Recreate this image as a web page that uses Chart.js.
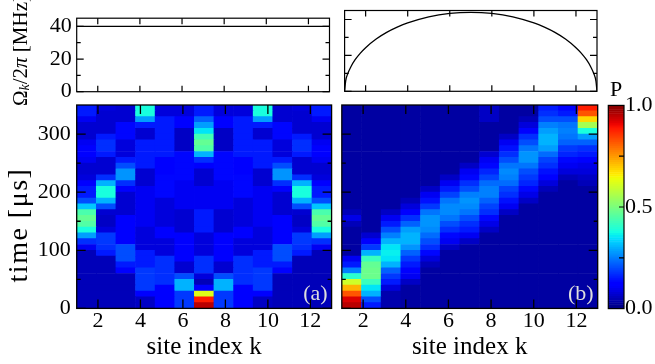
<!DOCTYPE html>
<html>
<head>
<meta charset="utf-8">
<script src="https://cdn.jsdelivr.net/npm/chart.js@4.4.1/dist/chart.umd.min.js"></script>
<style>
  html, body { margin:0; padding:0; background:#ffffff; }
  #fig { position:relative; width:655px; height:364px; overflow:hidden; background:#ffffff; }
  #fig canvas { position:absolute; left:0; top:0; }
  #omegaLabel { position:absolute; left:6px; top:0px; width:30px; height:102px; display:flex; align-items:center; justify-content:center; }
  #omegaLabel span { writing-mode:vertical-rl; transform:rotate(180deg); font-family:'Liberation Serif', 'DejaVu Serif', serif;
    font-size:21px; white-space:nowrap; color:#000; line-height:1; }
  #omegaLabel sub { font-size:14px; }
</style>
</head>
<body>
<div id="fig">
  <canvas id="topA" width="655" height="364" style="width:655px;height:364px"></canvas>
  <canvas id="topB" width="655" height="364" style="width:655px;height:364px"></canvas>
  <canvas id="heatA" width="655" height="364" style="width:655px;height:364px"></canvas>
  <canvas id="heatB" width="655" height="364" style="width:655px;height:364px"></canvas>
  <canvas id="cbar" width="655" height="364" style="width:655px;height:364px"></canvas>
  <div id="omegaLabel"><span>Ω<sub><i>k</i></sub>/2<i>π</i> [MHz]</span></div>
</div>
<script>
// ---------------- data ----------------
const sites = [1, 2, 3, 4, 5, 6, 7, 8, 9, 10, 11, 12, 13];
const timeEdges = [0, 10, 20, 30, 40, 50, 60, 70, 80, 90, 100, 110, 120, 130, 140, 150, 160, 170,
  180, 190, 200, 210, 220, 230, 240, 250, 260, 270, 280, 290, 300, 310, 320, 330, 340, 350];
const siteTicks = [2, 4, 6, 8, 10, 12];
const timeTicks = [0, 100, 200, 300];
const timeMinorTicks = [50, 150, 250];
const omegaTicks = [0, 20, 40];
const omegaMinorTicks = [10, 30];
const pTicks = [0, 0.5, 1];
const pMinorTicks = [0.25, 0.5, 0.75];

// top panels: coupling profile Omega_k / 2pi [MHz]
const uniformX = [1, 13];
const uniformY = [40, 40];
const pstX = [1, 1.05, 1.15, 1.3, 1.5, 1.75, 2, 2.5, 3, 3.5, 4, 5, 6, 7, 8, 9, 10, 10.5, 11, 11.5, 12, 12.25, 12.5, 12.7, 12.85, 12.95, 13];
const pstY = [0, 5.7, 9.8, 13.7, 17.6, 21.3, 24.3, 29.1, 32.8, 35.7, 38.1, 41.5, 43.4, 44, 43.4, 41.5, 38.1, 35.7, 32.8, 29.1, 24.3, 21.3, 17.6, 13.7, 9.8, 5.7, 0];

// panel (a): population P per site, one value per 10 us time bin (0-350 us)
const popA1  = [0.05,0.05,0.05,0.05,0.05, 0.05,0.05,0.05,0.05,0.05, 0.10,0.17,0.28,0.38,0.45, 0.47,0.44,0.32,0.20,0.15, 0.15,0.12,0.08,0.07,0.07, 0.10,0.12,0.12,0.10,0.07, 0.07,0.07,0.10,0.15,0.15];
const popA2  = [0.05,0.05,0.05,0.05,0.05, 0.05,0.05,0.05,0.05,0.15, 0.17,0.18,0.18,0.08,0.06, 0.06,0.07,0.20,0.30,0.38, 0.38,0.30,0.17,0.07,0.07, 0.07,0.15,0.17,0.17,0.15, 0.07,0.07,0.07,0.07,0.08];
const popA3  = [0.05,0.05,0.05,0.05,0.05, 0.05,0.12,0.15,0.20,0.20, 0.20,0.12,0.12,0.12,0.12, 0.12,0.07,0.07,0.07,0.07, 0.12,0.17,0.27,0.27,0.20, 0.15,0.08,0.08,0.08,0.13, 0.13,0.13,0.07,0.07,0.07];
const popA4  = [0.06,0.06,0.12,0.18,0.18, 0.18,0.18,0.15,0.15,0.15, 0.08,0.08,0.08,0.08,0.10, 0.10,0.10,0.10,0.10,0.10, 0.10,0.07,0.07,0.07,0.15, 0.15,0.15,0.15,0.15,0.07, 0.07,0.15,0.28,0.38,0.38];
const popA5  = [0.12,0.12,0.12,0.12,0.17, 0.17,0.17,0.17,0.17,0.08, 0.08,0.08,0.12,0.12,0.08, 0.08,0.08,0.08,0.08,0.13, 0.13,0.13,0.13,0.12,0.12, 0.12,0.15,0.15,0.15,0.15, 0.15,0.15,0.15,0.08,0.08];
const popA6  = [0.18,0.18,0.18,0.30,0.30, 0.20,0.07,0.07,0.12,0.12, 0.12,0.12,0.12,0.07,0.07, 0.07,0.07,0.10,0.10,0.10, 0.10,0.10,0.13,0.13,0.13, 0.13,0.13,0.06,0.06,0.06, 0.06,0.12,0.12,0.08,0.08];
const popA7  = [0.95,0.88,0.62,0.12,0.05, 0.08,0.17,0.17,0.17,0.08, 0.08,0.08,0.08,0.15,0.15, 0.15,0.15,0.10,0.10,0.10, 0.10,0.07,0.07,0.07,0.12, 0.17,0.30,0.45,0.47,0.43, 0.35,0.28,0.22,0.15,0.15];
const popA8  = [0.18,0.18,0.18,0.30,0.30, 0.20,0.07,0.07,0.12,0.12, 0.12,0.12,0.12,0.07,0.07, 0.07,0.07,0.10,0.10,0.10, 0.10,0.10,0.13,0.13,0.13, 0.13,0.13,0.06,0.06,0.06, 0.06,0.12,0.12,0.08,0.08];
const popA9  = [0.12,0.12,0.12,0.12,0.17, 0.17,0.17,0.17,0.17,0.08, 0.08,0.08,0.12,0.12,0.08, 0.08,0.08,0.08,0.08,0.13, 0.13,0.13,0.13,0.12,0.12, 0.12,0.15,0.15,0.15,0.15, 0.15,0.15,0.15,0.08,0.08];
const popA10 = [0.06,0.06,0.12,0.18,0.18, 0.18,0.18,0.15,0.15,0.15, 0.08,0.08,0.08,0.08,0.10, 0.10,0.10,0.10,0.10,0.10, 0.10,0.07,0.07,0.07,0.15, 0.15,0.15,0.15,0.15,0.07, 0.07,0.15,0.28,0.38,0.38];
const popA11 = [0.05,0.05,0.05,0.05,0.05, 0.05,0.12,0.15,0.20,0.20, 0.20,0.12,0.12,0.12,0.12, 0.12,0.07,0.07,0.07,0.07, 0.12,0.17,0.27,0.27,0.20, 0.15,0.08,0.08,0.08,0.13, 0.13,0.13,0.07,0.07,0.07];
const popA12 = [0.05,0.05,0.05,0.05,0.05, 0.05,0.05,0.05,0.05,0.15, 0.17,0.18,0.18,0.08,0.06, 0.06,0.07,0.20,0.30,0.38, 0.38,0.30,0.17,0.07,0.07, 0.07,0.15,0.17,0.17,0.15, 0.07,0.07,0.07,0.07,0.08];
const popA13 = [0.05,0.05,0.05,0.05,0.05, 0.05,0.05,0.05,0.05,0.05, 0.10,0.17,0.28,0.38,0.45, 0.47,0.44,0.32,0.20,0.15, 0.15,0.12,0.08,0.07,0.07, 0.10,0.12,0.12,0.10,0.07, 0.07,0.07,0.10,0.15,0.15];

// panel (b)
const popB1  = [0.95,0.92,0.82,0.72,0.60, 0.40,0.25,0.15,0.10,0.03, 0.03,0.03,0.03,0.03,0.05, 0.09,0.05,0.03,0.03,0.03, 0.03,0.03,0.03,0.03,0.03, 0.03,0.03,0.03,0.03,0.03, 0.03,0.03,0.03,0.03,0.03];
const popB2  = [0.15,0.20,0.30,0.35,0.42, 0.48,0.48,0.47,0.42,0.30, 0.18,0.12,0.07,0.03,0.03, 0.03,0.03,0.03,0.03,0.03, 0.03,0.03,0.03,0.03,0.03, 0.03,0.03,0.03,0.03,0.03, 0.03,0.03,0.03,0.03,0.03];
const popB3  = [0.04,0.04,0.04,0.08,0.15, 0.18,0.22,0.30,0.35,0.36, 0.35,0.30,0.25,0.20,0.15, 0.10,0.06,0.03,0.03,0.03, 0.03,0.03,0.03,0.03,0.03, 0.03,0.03,0.03,0.03,0.03, 0.03,0.03,0.03,0.03,0.03];
const popB4  = [0.03,0.03,0.03,0.03,0.06, 0.10,0.12,0.15,0.18,0.22, 0.27,0.30,0.30,0.28,0.22, 0.17,0.12,0.08,0.05,0.03, 0.03,0.03,0.03,0.03,0.03, 0.03,0.03,0.03,0.03,0.03, 0.03,0.03,0.03,0.03,0.03];
const popB5  = [0.03,0.03,0.03,0.03,0.03, 0.03,0.03,0.05,0.08,0.13, 0.17,0.20,0.23,0.26,0.27, 0.27,0.24,0.18,0.14,0.10, 0.06,0.03,0.03,0.03,0.03, 0.03,0.03,0.03,0.03,0.03, 0.03,0.03,0.03,0.03,0.03];
const popB6  = [0.03,0.03,0.03,0.03,0.03, 0.03,0.03,0.03,0.03,0.03, 0.06,0.10,0.13,0.17,0.20, 0.24,0.26,0.26,0.24,0.19, 0.15,0.10,0.06,0.03,0.03, 0.03,0.03,0.03,0.03,0.03, 0.03,0.03,0.03,0.03,0.03];
const popB7  = [0.03,0.03,0.03,0.03,0.03, 0.03,0.03,0.03,0.03,0.03, 0.03,0.06,0.10,0.15,0.17, 0.20,0.24,0.26,0.27,0.25, 0.20,0.17,0.13,0.10,0.06, 0.03,0.03,0.03,0.03,0.03, 0.03,0.03,0.03,0.03,0.03];
const popB8  = [0.03,0.03,0.03,0.03,0.03, 0.03,0.03,0.03,0.03,0.03, 0.03,0.03,0.03,0.06,0.09, 0.13,0.17,0.19,0.22,0.25, 0.25,0.23,0.19,0.16,0.13, 0.10,0.07,0.03,0.03,0.03, 0.03,0.03,0.06,0.06,0.06];
const popB9  = [0.03,0.03,0.03,0.03,0.03, 0.03,0.03,0.03,0.03,0.03, 0.03,0.03,0.03,0.03,0.03, 0.03,0.06,0.10,0.14,0.17, 0.19,0.23,0.25,0.26,0.24, 0.20,0.17,0.14,0.10,0.06, 0.03,0.03,0.03,0.03,0.03];
const popB10 = [0.03,0.03,0.03,0.03,0.03, 0.03,0.03,0.03,0.03,0.03, 0.03,0.03,0.03,0.03,0.03, 0.03,0.03,0.03,0.06,0.09, 0.13,0.16,0.18,0.20,0.24, 0.27,0.27,0.24,0.20,0.17, 0.12,0.08,0.05,0.03,0.03];
const popB11 = [0.03,0.03,0.03,0.03,0.03, 0.03,0.03,0.03,0.03,0.03, 0.03,0.03,0.03,0.03,0.03, 0.03,0.03,0.03,0.03,0.03, 0.05,0.08,0.11,0.14,0.17, 0.19,0.23,0.28,0.30,0.30, 0.28,0.25,0.20,0.17,0.15];
const popB12 = [0.03,0.03,0.03,0.03,0.03, 0.03,0.03,0.03,0.03,0.03, 0.03,0.03,0.03,0.03,0.03, 0.03,0.03,0.03,0.03,0.03, 0.03,0.03,0.05,0.08,0.10, 0.13,0.16,0.18,0.22,0.24, 0.25,0.24,0.20,0.15,0.12];
const popB13 = [0.03,0.03,0.03,0.03,0.03, 0.03,0.03,0.03,0.03,0.03, 0.03,0.03,0.03,0.03,0.03, 0.03,0.03,0.03,0.03,0.03, 0.03,0.05,0.06,0.08,0.09, 0.12,0.15,0.17,0.22,0.28, 0.38,0.55,0.68,0.82,0.88];

const popA = [popA1, popA2, popA3, popA4, popA5, popA6, popA7, popA8, popA9, popA10, popA11, popA12, popA13];
const popB = [popB1, popB2, popB3, popB4, popB5, popB6, popB7, popB8, popB9, popB10, popB11, popB12, popB13];

// ---------------- styling helpers ----------------
const SERIF = "'Liberation Serif', 'DejaVu Serif', serif";
const W = 655, H = 364;

function lerpMap(v, pts) {
  for (let i = 1; i < pts.length; i++) {
    if (v <= pts[i][0]) {
      const [x0, y0] = pts[i - 1], [x1, y1] = pts[i];
      return y0 + (y1 - y0) * (v - x0) / (x1 - x0);
    }
  }
  return pts[pts.length - 1][1];
}
function jet(v) {
  v = Math.min(1, Math.max(0, v));
  const r = lerpMap(v, [[0, 0], [0.35, 0], [0.66, 1], [0.89, 1], [1, 0.5]]);
  const g = lerpMap(v, [[0, 0], [0.125, 0], [0.375, 1], [0.64, 1], [0.91, 0], [1, 0]]);
  const b = lerpMap(v, [[0, 0.5], [0.11, 1], [0.34, 1], [0.65, 0], [1, 0]]);
  return `rgb(${Math.round(r * 255)},${Math.round(g * 255)},${Math.round(b * 255)})`;
}

// frame + inward ticks on all sides + panel tag + rotated axis title
const framePlugin = {
  id: 'frame',
  afterDraw(chart, args, o) {
    if (!o || !o.on) return;
    const ctx = chart.ctx, a = chart.chartArea;
    const xs = chart.scales[o.xAxis], ys = chart.scales[o.yAxis];
    ctx.save();
    ctx.strokeStyle = '#000';
    ctx.lineWidth = o.lw || 1.2;
    ctx.beginPath();
    (o.xTicks || []).forEach(t => {
      const px = xs.getPixelForValue(t.v);
      ctx.moveTo(px, a.bottom); ctx.lineTo(px, a.bottom - t.len);
      ctx.moveTo(px, a.top); ctx.lineTo(px, a.top + t.len);
    });
    (o.yTicks || []).forEach(t => {
      const py = ys.getPixelForValue(t.v);
      if (o.leftTicks !== false) { ctx.moveTo(a.left, py); ctx.lineTo(a.left + t.len, py); }
      ctx.moveTo(a.right, py); ctx.lineTo(a.right - t.len, py);
    });
    ctx.stroke();
    ctx.strokeRect(a.left, a.top, a.right - a.left, a.bottom - a.top);
    if (o.tag) {
      ctx.fillStyle = '#dedede';
      ctx.font = `22px ${SERIF}`;
      ctx.textAlign = 'right';
      ctx.textBaseline = 'alphabetic';
      ctx.fillText(o.tag, a.right - 4, a.bottom - 8);
    }
    if (o.yTitle) {
      const t = o.yTitle;
      ctx.translate(t.x, t.y);
      ctx.rotate(-Math.PI / 2);
      ctx.fillStyle = '#000';
      ctx.font = `${t.size}px ${SERIF}`;
      if ('letterSpacing' in ctx) ctx.letterSpacing = t.spacing + 'px';
      ctx.textAlign = 'center';
      ctx.textBaseline = 'middle';
      ctx.fillText(t.text, 0, 0);
    }
    ctx.restore();
  }
};
Chart.register(framePlugin);

function majorMinor(major, minor, lmaj, lmin) {
  return major.map(v => ({ v, len: lmaj })).concat(minor.map(v => ({ v, len: lmin })));
}

// ---------------- top panels (line charts) ----------------
function lineChart(id, xs, ys, area, showY) {
  return new Chart(document.getElementById(id), {
    type: 'line',
    data: { datasets: [{
      data: xs.map((x, i) => ({ x, y: ys[i] })),
      borderColor: '#000', borderWidth: 1.3, pointRadius: 0, fill: false,
      cubicInterpolationMode: 'monotone'
    }] },
    options: {
      responsive: false, animation: false, events: [],
      layout: { padding: { left: showY ? 0 : area.left, right: W - area.right, top: area.top, bottom: H - area.bottom } },
      scales: {
        x: { type: 'linear', min: 1, max: 13, display: false, offset: false },
        y: {
          type: 'linear', min: 0, max: 45, display: showY,
          afterBuildTicks(s) { s.ticks = omegaTicks.map(v => ({ value: v })); },
          afterFit(s) { s.width = showY ? area.left : 0; },
          grid: { display: false, drawTicks: false }, border: { display: false },
          ticks: { color: '#000', font: { family: SERIF, size: 22 }, padding: 5 }
        }
      },
      plugins: {
        legend: { display: false }, tooltip: { enabled: false },
        frame: { on: true, xAxis: 'x', yAxis: 'y', lw: 1.2,
          xTicks: siteTicks.map(v => ({ v, len: 6 })),
          yTicks: majorMinor(omegaTicks, omegaMinorTicks, 7, 4) }
      }
    }
  });
}
lineChart('topA', uniformX, uniformY, { left: 76.7, right: 329.5, top: 11, bottom: 91.7 }, true);
lineChart('topB', pstX, pstY, { left: 344.6, right: 597, top: 10.5, bottom: 91.3 }, false);

// ---------------- heat maps (floating bars) ----------------
function heatChart(id, pop, area, showY, tag) {
  const datasets = [];
  for (let b = 0; b < timeEdges.length - 1; b++) {
    datasets.push({
      data: sites.map(() => [timeEdges[b], timeEdges[b + 1]]),
      backgroundColor: pop.map(col => jet(col[b])),
      borderWidth: 0, barPercentage: 1, categoryPercentage: 1, grouped: false,
      xAxisID: 'xc', yAxisID: 'y'
    });
  }
  return new Chart(document.getElementById(id), {
    type: 'bar',
    data: { labels: sites.map(String), datasets },
    options: {
      responsive: false, animation: false, events: [],
      layout: { padding: { left: showY ? 0 : area.left, right: W - area.right, top: area.top, bottom: 0 } },
      scales: {
        xc: { type: 'category', display: false, offset: true },
        x: {
          type: 'linear', min: 1, max: 13, position: 'bottom', offset: false,
          afterBuildTicks(s) { s.ticks = siteTicks.map(v => ({ value: v })); },
          afterFit(s) { s.height = H - area.bottom; },
          grid: { display: false, drawTicks: false, offset: false }, border: { display: false },
          ticks: { color: '#000', font: { family: SERIF, size: 22 }, padding: 0, maxRotation: 0, autoSkip: false },
          title: { display: true, text: 'site index k', color: '#000', font: { family: SERIF, size: 25 }, padding: { top: 0, bottom: 2 } }
        },
        y: {
          type: 'linear', min: 0, max: 350, position: 'left', display: true,
          afterBuildTicks(s) { s.ticks = timeTicks.map(v => ({ value: v })); },
          afterFit(s) { s.width = showY ? area.left : 0; },
          grid: { display: false, drawTicks: false }, border: { display: false },
          ticks: { display: showY, color: '#000', font: { family: SERIF, size: 22 }, padding: 6 }
        }
      },
      plugins: {
        legend: { display: false }, tooltip: { enabled: false },
        frame: { on: true, xAxis: 'x', yAxis: 'y', lw: 1.3, tag,
          yTitle: showY ? { text: 'time [μs]', x: 20, y: 225, size: 28, spacing: 1.5 } : null,
          xTicks: siteTicks.map(v => ({ v, len: 9 })),
          yTicks: majorMinor(timeTicks, timeMinorTicks, 9, 4) }
      }
    }
  });
}
heatChart('heatA', popA, { left: 76.7, right: 331.6, top: 105, bottom: 308.4 }, true, '(a)');
heatChart('heatB', popB, { left: 341.8, right: 597.7, top: 105, bottom: 308.4 }, false, '(b)');

// ---------------- colour bar ----------------
const colorSteps = [];
for (let i = 0; i <= 100; i++) colorSteps.push(i / 100);
(function () {
  const area = { left: 608.3, right: 624, top: 105.4, bottom: 308.6 };
  const datasets = [];
  for (let i = 0; i < colorSteps.length - 1; i++) {
    datasets.push({
      data: [[colorSteps[i], colorSteps[i + 1]]],
      backgroundColor: jet((colorSteps[i] + colorSteps[i + 1]) / 2),
      borderWidth: 0, barPercentage: 1, categoryPercentage: 1, grouped: false,
      xAxisID: 'xc', yAxisID: 'y'
    });
  }
  new Chart(document.getElementById('cbar'), {
    type: 'bar',
    data: { labels: ['P'], datasets },
    options: {
      responsive: false, animation: false, events: [],
      layout: { padding: { left: area.left, right: 0, top: area.top - 30, bottom: H - area.bottom } },
      scales: {
        xc: {
          type: 'category', position: 'top', offset: true,
          afterFit(s) { s.height = 30; },
          grid: { display: false, drawTicks: false }, border: { display: false },
          ticks: { display: false },
          title: { display: true, text: 'P', color: '#000', font: { family: SERIF, size: 22 }, padding: { top: 2, bottom: 0 } }
        },
        y: {
          type: 'linear', min: 0, max: 1, position: 'right',
          afterBuildTicks(s) { s.ticks = pTicks.map(v => ({ value: v })); },
          afterFit(s) { s.width = W - area.right; },
          grid: { display: false, drawTicks: false }, border: { display: false },
          ticks: { color: '#000', font: { family: SERIF, size: 22 }, padding: 1, callback: v => Number(v).toFixed(1) }
        }
      },
      plugins: {
        legend: { display: false }, tooltip: { enabled: false },
        frame: { on: true, xAxis: 'xc', yAxis: 'y', lw: 1.2, leftTicks: false,
          xTicks: [], yTicks: pMinorTicks.map(v => ({ v, len: 5 })) }
      }
    }
  });
})();
</script>
</body>
</html>
